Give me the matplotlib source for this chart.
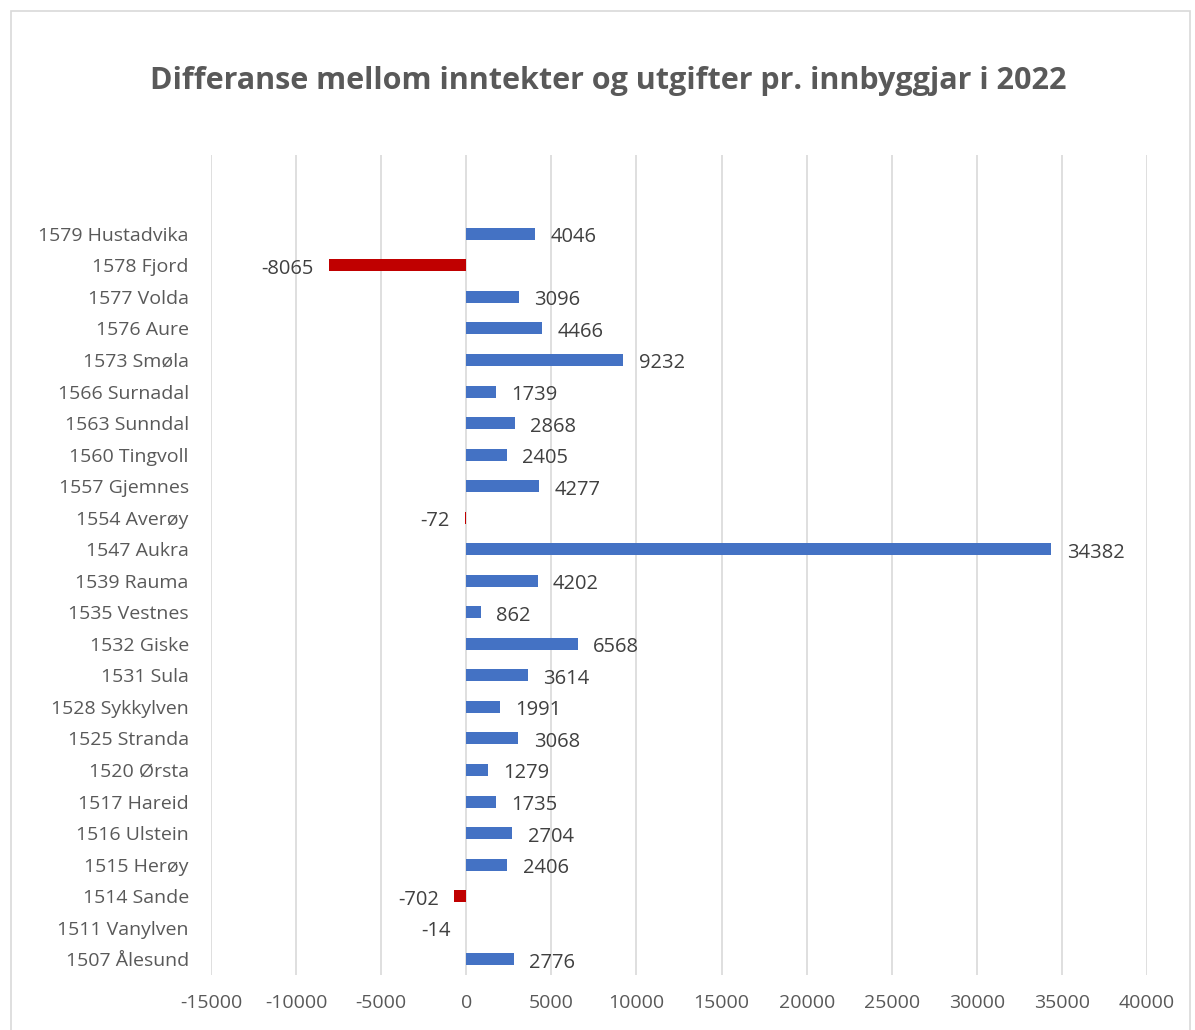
import matplotlib.pyplot as plt
from matplotlib.patches import Rectangle

# kommunar frå botn til topp (same rekkjefølgje som i diagrammet)
kommunar = ['1507 Ålesund', '1511 Vanylven', '1514 Sande', '1515 Herøy', '1516 Ulstein',
            '1517 Hareid', '1520 Ørsta', '1525 Stranda', '1528 Sykkylven', '1531 Sula',
            '1532 Giske', '1535 Vestnes', '1539 Rauma', '1547 Aukra', '1554 Averøy',
            '1557 Gjemnes', '1560 Tingvoll', '1563 Sunndal', '1566 Surnadal', '1573 Smøla',
            '1576 Aure', '1577 Volda', '1578 Fjord', '1579 Hustadvika']
differanse = [2776, -14, -702, 2406, 2704, 1735, 1279, 3068, 1991, 3614,
              6568, 862, 4202, 34382, -72, 4277, 2405, 2868, 1739, 9232,
              4466, 3096, -8065, 4046]
xticks = [-15000, -10000, -5000, 0, 5000, 10000, 15000, 20000, 25000, 30000, 35000, 40000]

plt.rcParams['font.family'] = ['Open Sans', 'DejaVu Sans']
grey = '#595959'

fig = plt.figure(figsize=(11.95, 10.3), dpi=100)
ax = fig.add_axes([0.1766, 0.0534, 0.7832, 0.7961])

pos = list(range(len(kommunar)))
colors = ['#4472C4' if v >= 0 else '#C00000' for v in differanse]
ax.barh(pos, differanse, height=0.38, color=colors, zorder=3)

for y, v in zip(pos, differanse):
    if v >= 0:
        ax.annotate(str(v), (v, y), xytext=(11, -2.5), textcoords='offset points',
                    va='center', ha='left', fontsize=14.5, color='#404040')
    else:
        ax.annotate(str(v), (v, y), xytext=(-11, -2.5), textcoords='offset points',
                    va='center', ha='right', fontsize=14.5, color='#404040')

ax.set_xlim(-15000, 40000)
ax.set_ylim(-0.5, 25.5)
ax.set_xticks(xticks)
ax.set_xticklabels([str(t) for t in xticks])
ax.set_yticks(pos)
ax.set_yticklabels(kommunar)
ax.tick_params(axis='both', length=0, labelsize=14, labelcolor=grey)
ax.tick_params(axis='x', pad=14)
ax.tick_params(axis='y', pad=16)
ax.grid(axis='x', color='#D9D9D9', linewidth=1.2, zorder=0)
for s in ax.spines.values():
    s.set_visible(False)

fig.text(0.509, 0.921, 'Differanse mellom inntekter og utgifter pr. innbyggjar i 2022',
         ha='center', va='center', fontsize=22, fontweight='bold', color=grey)

# ramme rundt diagrammet
fig.patches.append(Rectangle((0.0092, -0.01), 0.987, 0.9993, transform=fig.transFigure,
                             fill=False, edgecolor='#D9D9D9', linewidth=1.2))

fig.savefig('out.png', dpi=100)
